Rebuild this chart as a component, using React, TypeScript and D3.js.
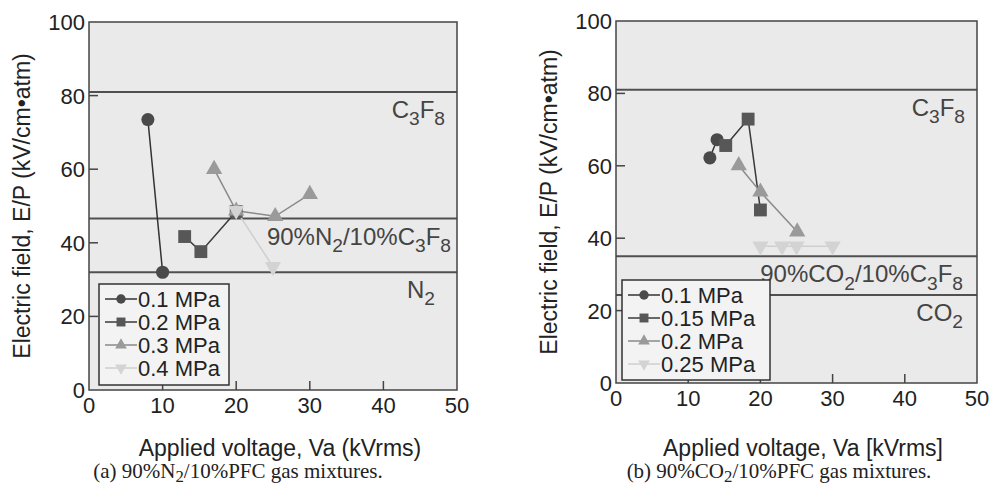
import React from 'react';
import * as d3 from 'd3';

// ---- data ----
const xTicks = [0, 10, 20, 30, 40, 50];
const yTicks = [0, 20, 40, 60, 80, 100];

// (a) 90%N2/10%PFC
const n2Labels = ['0.1 MPa', '0.2 MPa', '0.3 MPa', '0.4 MPa'];
const n2P01 = [{ x: 8, y: 73.5 }, { x: 10, y: 32 }];
const n2P02 = [{ x: 13, y: 41.7 }, { x: 15.2, y: 37.6 }, { x: 20, y: 48.5 }];
const n2P03 = [{ x: 17, y: 60 }, { x: 20, y: 48.7 }, { x: 25.3, y: 47.2 }, { x: 30, y: 53.2 }];
const n2P04 = [{ x: 20, y: 48.8 }, { x: 25, y: 33.5 }];
const n2Refs = [
  { parts: [['C'], ['3', 's'], ['F'], ['8', 's']], value: 81 },
  { parts: [['90%N'], ['2', 's'], ['/10%C'], ['3', 's'], ['F'], ['8', 's']], value: 46.6 },
  { parts: [['N'], ['2', 's']], value: 32 },
];

// (b) 90%CO2/10%PFC
const co2Labels = ['0.1 MPa', '0.15 MPa', '0.2 MPa', '0.25 MPa'];
const co2P01 = [{ x: 13, y: 62.2 }, { x: 14, y: 67.2 }];
const co2P015 = [{ x: 15.2, y: 65.6 }, { x: 18.3, y: 72.9 }, { x: 20, y: 47.8 }];
const co2P02 = [{ x: 17, y: 60.1 }, { x: 20, y: 52.8 }, { x: 25.1, y: 41.8 }];
const co2P025 = [{ x: 20, y: 37.8 }, { x: 23, y: 37.8 }, { x: 25, y: 37.8 }, { x: 30, y: 37.8 }];
const co2Refs = [
  { parts: [['C'], ['3', 's'], ['F'], ['8', 's']], value: 81 },
  { parts: [['90%CO'], ['2', 's'], ['/10%C'], ['3', 's'], ['F'], ['8', 's']], value: 35 },
  { parts: [['CO'], ['2', 's']], value: 24.3 },
];

// ---- styles ----
const styles = [
  { symbol: d3.symbolCircle, size: 135, lsize: 70, fill: '#4a4a4a', line: '#333', rot: 0 },
  { symbol: d3.symbolSquare, size: 165, lsize: 80, fill: '#575757', line: '#3a3a3a', rot: 0 },
  { symbol: d3.symbolTriangle, size: 115, lsize: 60, fill: '#9a9a9a', line: '#8a8a8a', rot: 0 },
  { symbol: d3.symbolTriangle, size: 115, lsize: 60, fill: '#d3d3d3', line: '#cfcfcf', rot: 180 },
];

const FONT = 'Liberation Sans, Arial, sans-serif';
const SERIF = 'Liberation Serif, Times New Roman, serif';

function RichText({ parts, x, y, size, anchor, fill, family = FONT, subShift = 0.3 }) {
  return (
    <text x={x} y={y} fontSize={size} textAnchor={anchor} fill={fill} fontFamily={family}>
      {parts.map((p, i) => {
        const sub = p[1] === 's';
        const prevSub = i > 0 && parts[i - 1][1] === 's';
        const dy = sub && !prevSub ? size * subShift : !sub && prevSub ? -size * subShift : 0;
        return (
          <tspan key={i} dy={dy} fontSize={sub ? size * 0.8 : size}>{p[0]}</tspan>
        );
      })}
    </text>
  );
}

function Panel({ box, series, labels, refs, xTitle, caption, titleX, captionX, legend, labelShift }) {
  const x = d3.scaleLinear().domain([0, 50]).range([box.left, box.right]);
  const y = d3.scaleLinear().domain([0, 100]).range([box.bottom, box.top]);
  const line = d3.line<any>().x(d => x(d.x)).y(d => y(d.y));

  return (
    <g>
      <rect x={box.left} y={box.top} width={box.right - box.left} height={box.bottom - box.top}
        fill="#eaeaea" stroke="none" />

      {refs.map((r, i) => (
        <g key={i}>
          <line x1={box.left} x2={box.right} y1={y(r.value)} y2={y(r.value)} stroke="#505050" strokeWidth={2} />
          <RichText parts={r.parts} x={box.right - 12 - (labelShift[i] || 0)} y={y(r.value) + 26}
            size={24} anchor="end" fill="#444" />
        </g>
      ))}

      {/* ticks inside */}
      {xTicks.slice(1, -1).map(t => (
        <line key={'xt' + t} x1={x(t)} x2={x(t)} y1={box.bottom} y2={box.bottom - 9} stroke="#444" strokeWidth={1.5} />
      ))}
      {yTicks.slice(1, -1).map(t => (
        <line key={'yt' + t} x1={box.left} x2={box.left + 9} y1={y(t)} y2={y(t)} stroke="#444" strokeWidth={1.5} />
      ))}

      {/* series lines then markers */}
      {series.map((s, i) => (
        <path key={'l' + i} d={line(s) || ''} fill="none" stroke={styles[i].line} strokeWidth={1.5} />
      ))}
      {series.map((s, i) => s.map((p, j) => (
        <path key={'m' + i + '-' + j}
          d={d3.symbol().type(styles[i].symbol).size(styles[i].size)() || ''}
          transform={`translate(${x(p.x)},${y(p.y)}) rotate(${styles[i].rot})`}
          fill={styles[i].fill} />
      )))}

      {/* legend */}
      <rect x={legend.x} y={legend.y} width={legend.w} height={legend.h}
        fill="#f3f3f3" stroke="#333" strokeWidth={1.5} />
      {labels.map((lab, i) => {
        const cy = legend.y + 15 + i * 23;
        return (
          <g key={'lg' + i}>
            <line x1={legend.x + 6} x2={legend.x + 38} y1={cy} y2={cy} stroke={styles[i].line} strokeWidth={1.5} />
            <path d={d3.symbol().type(styles[i].symbol).size(styles[i].lsize)() || ''}
              transform={`translate(${legend.x + 22},${cy}) rotate(${styles[i].rot})`} fill={styles[i].fill} />
            <text x={legend.x + 39} y={cy + 8} fontSize={22} fontFamily={FONT} fill="#222">{lab}</text>
          </g>
        );
      })}

      {/* frame */}
      <rect x={box.left} y={box.top} width={box.right - box.left} height={box.bottom - box.top}
        fill="none" stroke="#444" strokeWidth={1.5} />

      {/* tick labels */}
      {xTicks.map(t => (
        <text key={'xl' + t} x={x(t)} y={box.bottom + 23} textAnchor="middle" fontSize={22}
          fontFamily={FONT} fill="#222">{t}</text>
      ))}
      {yTicks.map(t => (
        <text key={'yl' + t} x={box.left - 4} y={y(t) + 8} textAnchor="end" fontSize={22}
          fontFamily={FONT} fill="#222">{t}</text>
      ))}

      {/* axis titles */}
      <text transform={`translate(${box.left - 59},${(box.top + box.bottom) / 2}) rotate(-90)`}
        textAnchor="middle" fontSize={23} fontFamily={FONT} fill="#222">
        Electric field, E/P (kV/cm•atm)
      </text>
      <text x={titleX} y={456} textAnchor="middle" fontSize={23} fontFamily={FONT} fill="#222">{xTitle}</text>

      {/* caption */}
      <RichText parts={caption} x={captionX} y={478} size={21} anchor="middle" fill="#222"
        family={SERIF} subShift={0.2} />
    </g>
  );
}

export default function App() {
  return (
    <svg width={991} height={489} style={{ position: 'absolute', left: 0, top: 0, background: '#fff' }}>
      <Panel
        box={{ left: 89, right: 457, top: 22, bottom: 390 }}
        series={[n2P01, n2P02, n2P03, n2P04]}
        labels={n2Labels}
        refs={n2Refs}
        labelShift={[0, -6, 10]}
        xTitle="Applied voltage, Va (kVrms)"
        titleX={280}
        captionX={238}
        caption={[['(a) 90%N'], ['2', 's'], ['/10%PFC gas mixtures.']]}
        legend={{ x: 99, y: 284, w: 130, h: 101 }}
      />
      <Panel
        box={{ left: 616, right: 977, top: 21, bottom: 383 }}
        series={[co2P01, co2P015, co2P02, co2P025]}
        labels={co2Labels}
        refs={co2Refs}
        labelShift={[0, 2, 2]}
        xTitle="Applied voltage, Va [kVrms]"
        titleX={803}
        captionX={779}
        caption={[['(b) 90%CO'], ['2', 's'], ['/10%PFC gas mixtures.']]}
        legend={{ x: 622, y: 280, w: 148, h: 100 }}
      />
    </svg>
  );
}
